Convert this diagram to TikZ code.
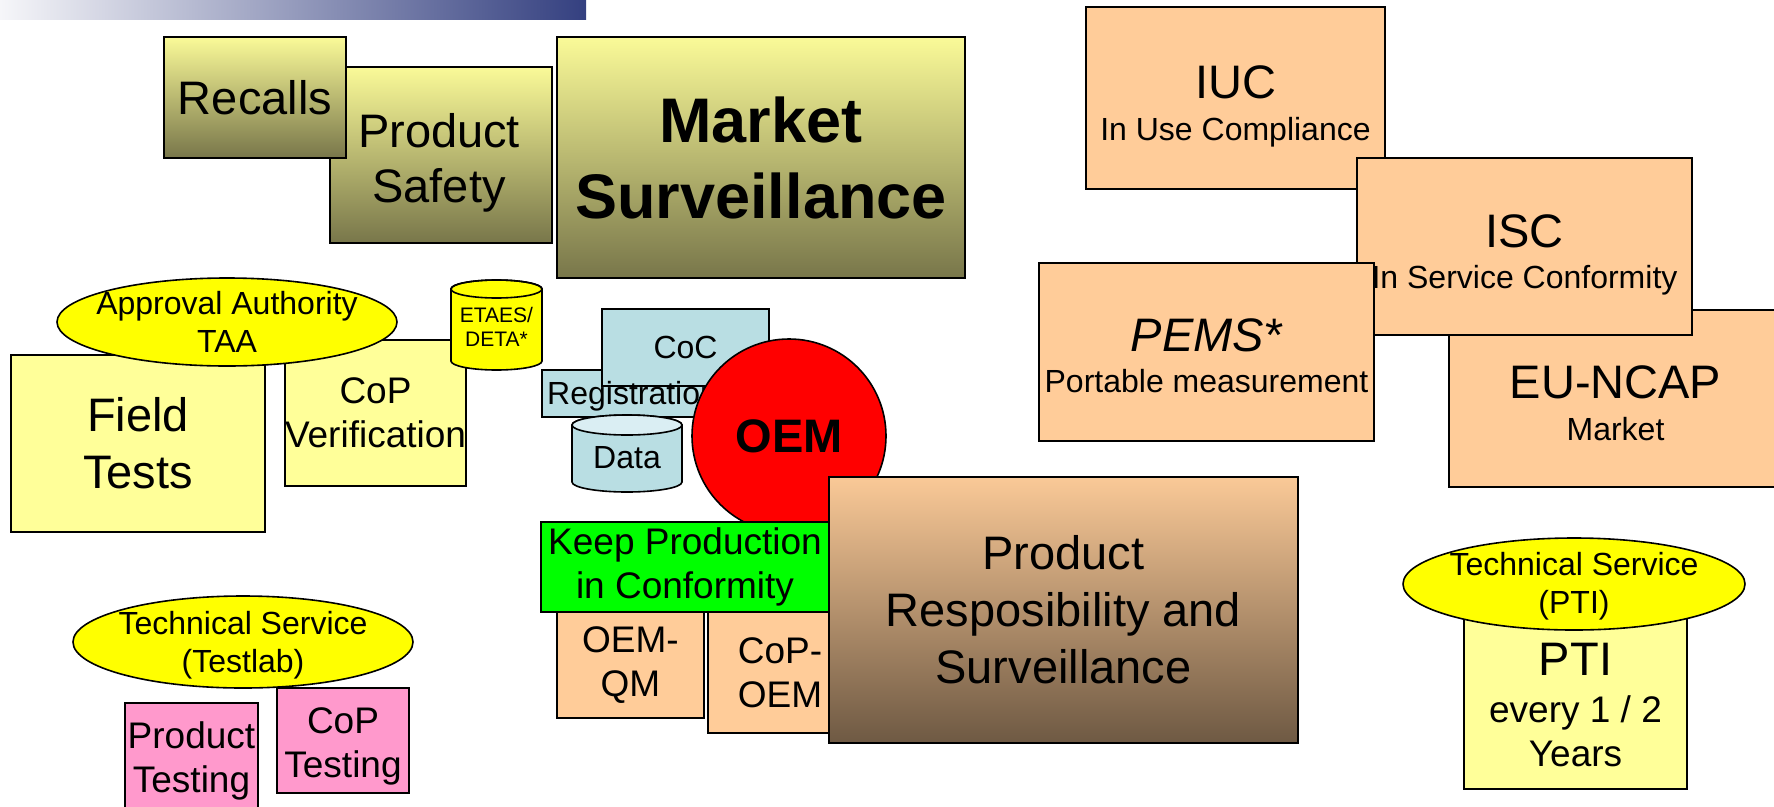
\documentclass[tikz,border=0pt]{standalone}
\usepackage{fontspec}
\setmainfont{Liberation Sans}
\usetikzlibrary{shapes.geometric}
\definecolor{ly}{HTML}{FFFF99}
\definecolor{yel}{HTML}{FFFF00}
\definecolor{olT}{RGB}{250,250,152}
\definecolor{olB}{RGB}{120,118,74}
\definecolor{peach}{HTML}{FFCC99}
\definecolor{prT}{RGB}{250,201,151}
\definecolor{prB}{RGB}{110,89,67}
\definecolor{pink}{HTML}{FF99CC}
\definecolor{lblue}{RGB}{185,222,227}
\definecolor{lblueT}{RGB}{218,238,243}
\definecolor{grn}{HTML}{00FF00}
\definecolor{barL}{RGB}{246,246,249}
\definecolor{barR}{RGB}{52,64,128}
\newcommand\fsA{\fontsize{47}{57}\selectfont}
\newcommand\fsB{\fontsize{37}{44}\selectfont}
\newcommand\fsC{\fontsize{32}{38}\selectfont}
\newcommand\fsM{\fontsize{63}{76}\selectfont}
\newcommand\fsE{\fontsize{21}{24}\selectfont}
\begin{document}
\begin{tikzpicture}[x=1pt,y=1pt,
  box/.style={draw=black, line width=2pt, inner sep=0pt, align=center, rectangle},
  olive/.style={box, top color=olT, bottom color=olB},
  peachbox/.style={box, fill=peach},
  lybox/.style={box, fill=ly},
  pinkbox/.style={box, fill=pink},
  oval/.style={ellipse, draw=black, line width=1.6pt, fill=yel, inner sep=0pt},
  txt/.style={inner sep=0pt, align=center},
  fA/.style={font=\fsA}, fB/.style={font=\fsB}, fC/.style={font=\fsC},
  cyl/.style={draw=black, line width=1.6pt}]
\useasboundingbox (0,0) rectangle (1774,-806);
\clip (0,0) rectangle (1774,-806);
\fill[white] (0,0) rectangle (1774,-806);
% top bar
\node[inner sep=0pt, minimum width=586pt, minimum height=19pt, left color=barL, right color=barR] (bar) at (293,-9.5) {};
% market surveillance group
\node[olive, minimum width=222pt, minimum height=176pt] (safety) at (441,-155) {};
\node[txt, font=\fontsize{47}{55}\selectfont] (safetyt) at (439,-163) {Product\\Safety};
\node[olive, fA, minimum width=182pt, minimum height=121pt] (recalls) at (255,-97.5) {Recalls};
\node[olive, font=\fsM\bfseries, minimum width=408pt, minimum height=241pt] (market) at (761,-157.5) {Market\\Surveillance};
% approval authority group
\node[lybox, fA, minimum width=254pt, minimum height=177pt] (field) at (138,-443.5) {Field\\Tests};
\node[lybox, fB, minimum width=181pt, minimum height=146pt] (copv) at (375.5,-413) {CoP\\Verification};
\node[oval, minimum width=340pt, minimum height=88pt] (aa) at (227,-322) {};
\node[txt, fC] (aat) at (aa) {Approval Authority\\TAA};
% ETAES cylinder
\draw[cyl, fill=yel] (451,-289) -- (451,-361) arc[start angle=180, end angle=360, x radius=45.5, y radius=9] -- (542,-289) arc[start angle=0, end angle=180, x radius=45.5, y radius=9] -- cycle;
\draw[cyl] (496.5,-289) ellipse[x radius=45.5, y radius=9];
\node[txt, font=\fsE] (etaes) at (496.5,-327) {ETAES/\\DETA*};
% OEM group
\node[box, fill=lblue, minimum width=178pt, minimum height=47pt] (regbox) at (631,-393.5) {};
\node[box, fill=lblue, fC, minimum width=167pt, minimum height=77pt] (coc) at (685.5,-347.5) {CoC};
\node[txt, fC, anchor=west] (reg) at (547,-396) {Registration};
\draw[cyl, fill=lblue] (572,-425) -- (572,-482) arc[start angle=180, end angle=360, x radius=55, y radius=10] -- (682,-425) arc[start angle=0, end angle=180, x radius=55, y radius=10] -- cycle;
\draw[cyl, fill=lblueT] (627,-425) ellipse[x radius=55, y radius=10];
\node[txt, fC] (data) at (627,-458) {Data};
\node[circle, draw=black, line width=1.6pt, fill=red, minimum size=194pt, inner sep=0pt, font=\fsA\bfseries] (oem) at (789,-436) {OEM};
\node[peachbox, fB, minimum width=147pt, minimum height=106pt] (oemqm) at (630.5,-665) {OEM-\\QM};
\node[peachbox, fB, minimum width=144pt, minimum height=121pt] (copoem) at (780,-672.5) {CoP-\\OEM};
\node[box, fill=grn, fB, minimum width=288pt, minimum height=90pt] (keep) at (685,-567) {Keep Production\\in Conformity};
\node[box, top color=prT, bottom color=prB, fA, minimum width=469pt, minimum height=266pt] (prs) at (1063.5,-610) {Product\\Resposibility and\\Surveillance};
% right group
\node[peachbox, minimum width=299pt, minimum height=182pt] (iuc) at (1235.5,-98) {};
\node[txt, fC] (iuct) at (1235.5,-106) {{\fsA IUC}\\[4pt]In Use Compliance};
\node[peachbox, minimum width=333pt, minimum height=177pt] (ncap) at (1615.5,-398.5) {};
\node[txt, fC] (ncapt) at (1615.5,-403) {{\fsA EU-NCAP}\\[4pt]Market};
\node[peachbox, minimum width=335pt, minimum height=177pt] (isc) at (1524.5,-246.5) {};
\node[txt, fC] (isct) at (1524.5,-254.5) {{\fsA ISC}\\[3pt]In Service Conformity};
\node[peachbox, minimum width=335pt, minimum height=178pt] (pems) at (1206.5,-352) {};
\node[txt, fC] (pemst) at (1206.5,-356) {{\fsA\itshape PEMS*}\\[3pt]Portable measurement};
% testlab group
\node[pinkbox, minimum width=133pt, minimum height=109pt] (ptest) at (191.5,-757.5) {};
\node[txt, fB] (ptestt) at (191.5,-761) {Product\\Testing};
\node[pinkbox, minimum width=132pt, minimum height=105pt] (ctest) at (343,-740.5) {};
\node[txt, fB] (ctestt) at (343,-746) {CoP\\Testing};
\node[oval, minimum width=340pt, minimum height=92pt] (ts) at (243,-642) {};
\node[txt, fC] (tst) at (243,-645) {Technical Service\\(Testlab)};
% PTI group
\node[lybox, minimum width=223pt, minimum height=184pt] (pti) at (1575.5,-697) {};
\node[txt, fB] (ptit) at (1575.5,-705) {{\fsA PTI}\\[3pt]every 1 / 2\\Years};
\node[oval, minimum width=342pt, minimum height=92pt] (tsp) at (1574,-584) {};
\node[txt, fC] (tspt) at (1574,-586) {Technical Service\\(PTI)};
\end{tikzpicture}
\end{document}
